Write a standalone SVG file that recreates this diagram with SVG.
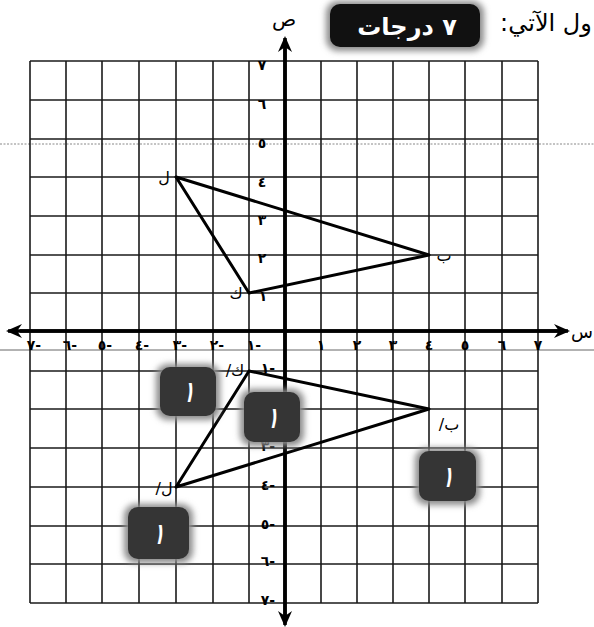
<svg xmlns="http://www.w3.org/2000/svg" width="594" height="627" viewBox="0 0 594 627">
<style>
.grid line{stroke:#1a1a1a;stroke-width:1.6}
.axis{stroke:#000;stroke-width:3.5;fill:none}
.tri{stroke:#000;stroke-width:3;fill:none;stroke-linejoin:round}
.lbl{font-family:"DejaVu Sans",sans-serif;font-size:14px;font-weight:bold;fill:#000;text-anchor:middle}
.neg{direction:ltr;unicode-bidi:bidi-override}
.vl{font-family:"DejaVu Sans",sans-serif;font-size:16px;fill:#000;text-anchor:middle;direction:ltr;unicode-bidi:bidi-override}
.badge{fill:#353535}
.halo{fill:#8a8a8a;filter:url(#soft)}
.one{font-family:"DejaVu Sans",sans-serif;font-size:30px;fill:#fff;text-anchor:middle;font-style:italic}
</style>
<defs>
<filter id="soft" x="-30%" y="-30%" width="160%" height="160%"><feGaussianBlur stdDeviation="3"/></filter>
<marker id="ah" viewBox="0 0 16 14" refX="14" refY="7" markerWidth="16" markerHeight="14" markerUnits="userSpaceOnUse" orient="auto"><path d="M0,0 L16,7 L0,14 L5,7 Z" fill="#000"/></marker>
</defs>
<rect width="594" height="627" fill="#fff"/>
<g id="artifacts">
<line x1="0" y1="144" x2="594" y2="144" stroke="#888" stroke-width="1" stroke-dasharray="2,1.5"/>
<line x1="0" y1="350" x2="594" y2="350" stroke="#666" stroke-width="1"/>
</g>
<g id="grid" class="grid">
<line x1="30" y1="61" x2="30" y2="603"/><line x1="66" y1="61" x2="66" y2="603"/><line x1="102" y1="61" x2="102" y2="603"/><line x1="139" y1="61" x2="139" y2="603"/><line x1="176" y1="61" x2="176" y2="603"/><line x1="213" y1="61" x2="213" y2="603"/><line x1="249" y1="61" x2="249" y2="603"/><line x1="321" y1="61" x2="321" y2="603"/><line x1="357" y1="61" x2="357" y2="603"/><line x1="393" y1="61" x2="393" y2="603"/><line x1="429" y1="61" x2="429" y2="603"/><line x1="465" y1="61" x2="465" y2="603"/><line x1="502" y1="61" x2="502" y2="603"/><line x1="538" y1="61" x2="538" y2="603"/>
<line x1="30" y1="61" x2="538" y2="61"/><line x1="30" y1="100" x2="538" y2="100"/><line x1="30" y1="139" x2="538" y2="139"/><line x1="30" y1="177" x2="538" y2="177"/><line x1="30" y1="216" x2="538" y2="216"/><line x1="30" y1="255" x2="538" y2="255"/><line x1="30" y1="293" x2="538" y2="293"/><line x1="30" y1="371" x2="538" y2="371"/><line x1="30" y1="409" x2="538" y2="409"/><line x1="30" y1="448" x2="538" y2="448"/><line x1="30" y1="487" x2="538" y2="487"/><line x1="30" y1="526" x2="538" y2="526"/><line x1="30" y1="564" x2="538" y2="564"/><line x1="30" y1="603" x2="538" y2="603"/>
</g>
<g id="axes">
<line class="axis" x1="285" y1="620" x2="285" y2="38" marker-end="url(#ah)"/>
<line class="axis" x1="285" y1="40" x2="285" y2="625" marker-end="url(#ah)"/>
<line class="axis" x1="20" y1="331" x2="568" y2="331" marker-end="url(#ah)"/>
<line class="axis" x1="560" y1="331" x2="8" y2="331" marker-end="url(#ah)"/>
<text x="284" y="26" font-family="DejaVu Sans,sans-serif" font-size="20" text-anchor="middle">ص</text>
<text x="582" y="338" font-family="DejaVu Sans,sans-serif" font-size="18" text-anchor="middle">س</text>
</g>
<g id="y-labels" class="lbl">
<text x="262" y="70">٧</text><text x="262" y="109">٦</text><text x="262" y="148">٥</text><text x="262" y="187">٤</text><text x="262" y="225">٣</text><text x="262" y="263">٢</text><text x="263" y="301">١</text>
<text class="neg" x="268" y="373">١-</text><text class="neg" x="268" y="451">٣-</text><text class="neg" x="268" y="490">٤-</text><text class="neg" x="268" y="529">٥-</text><text class="neg" x="268" y="566">٦-</text><text class="neg" x="268" y="605">٧-</text>
</g>
<g id="x-labels" class="lbl">
<text x="321" y="350">١</text><text x="357" y="350">٢</text><text x="393" y="350">٣</text><text x="429" y="350">٤</text><text x="465" y="350">٥</text><text x="502" y="350">٦</text><text x="538" y="350">٧</text>
<text class="neg" x="34" y="350">٧-</text><text class="neg" x="70" y="350">٦-</text><text class="neg" x="105" y="350">٥-</text><text class="neg" x="142" y="350">٤-</text><text class="neg" x="180" y="350">٣-</text><text class="neg" x="217" y="350">٢-</text><text class="neg" x="254" y="350">١-</text>
</g>
<g id="connectors">
<polygon class="tri" points="176,177 429,255 249,293"/>
<polygon class="tri" points="249,371 429,409 176,487"/>
</g>
<g id="vertex-labels" class="vl">
<text x="164" y="183">ل</text>
<text x="444" y="261">ب</text>
<text x="236" y="299">ك</text>
<text x="235" y="376">/ك</text>
<text x="449" y="430">/ب</text>
<text x="164" y="494">/ل</text>
</g>
<g id="badge1"><rect class="halo" x="156" y="364" width="64" height="56" rx="12"/><rect class="badge" x="160" y="367" width="56" height="49" rx="10"/><text class="one" x="188" y="402">١</text></g>
<g id="badge2"><rect class="halo" x="240" y="389" width="64" height="57" rx="12"/><rect class="badge" x="244" y="392" width="56" height="50" rx="10"/><text class="one" x="272" y="428">١</text></g>
<g id="badge3"><rect class="halo" x="415" y="448" width="65" height="57" rx="12"/><rect class="badge" x="419" y="451" width="57" height="50" rx="10"/><text class="one" x="447" y="487">١</text></g>
<g id="badge4"><rect class="halo" x="124" y="504" width="69" height="59" rx="12"/><rect class="badge" x="128" y="507" width="61" height="52" rx="10"/><text class="one" x="158" y="544">١</text></g>
<g id="header">
<rect class="halo" x="326" y="1" width="158" height="50" rx="12"/>
<rect x="330" y="4" width="150" height="43" rx="10" fill="#111"/>
<text x="407" y="35" font-family="DejaVu Sans,sans-serif" font-size="24" font-weight="bold" fill="#fff" text-anchor="middle" direction="rtl" unicode-bidi="embed">٧ درجات</text>
<text x="546" y="31" font-family="DejaVu Sans,sans-serif" font-size="24" fill="#000" text-anchor="middle" direction="rtl" unicode-bidi="embed">ول الآتي:</text>
</g>
</svg>
